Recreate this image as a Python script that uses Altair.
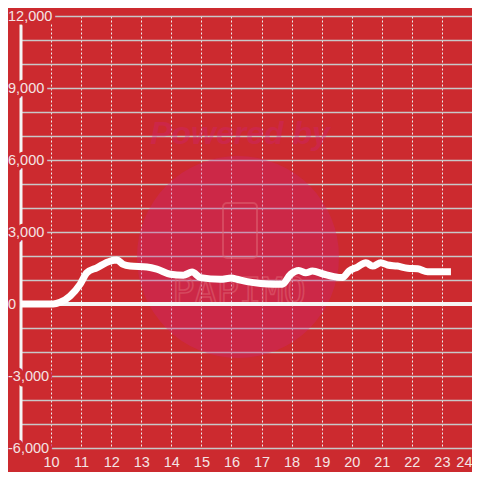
import altair as alt
import pandas as pd

# Time of day (hours) and value
hours = [9.0, 10.07, 10.3, 10.63, 10.97, 11.19, 11.52, 11.97, 12.19, 12.4, 12.63,
         13.19, 13.52, 13.97, 14.4, 14.69, 14.97, 15.63, 16.0, 16.19, 16.52, 16.97,
         17.4, 17.69, 17.97, 18.24, 18.47, 18.69, 19.08, 19.41, 19.69, 19.91, 20.19,
         20.47, 20.69, 20.97, 21.19, 21.52, 21.86, 22.19, 22.52, 22.97, 23.3]
values = [0, 0, 70, 330, 830, 1300, 1510, 1790, 1830, 1650, 1580,
          1540, 1450, 1240, 1200, 1330, 1100, 1030, 1080, 1030, 930, 850,
          820, 820, 1240, 1400, 1300, 1375, 1240, 1140, 1100, 1375, 1540,
          1720, 1580, 1720, 1625, 1580, 1490, 1470, 1345, 1345, 1345]

x_ticks = list(range(10, 25))
y_grid = list(range(-6000, 12001, 1000))
y_label_values = [-6000, -3000, 0, 3000, 6000, 9000, 12000]
y_label_texts = ["-6,000", "-3,000", "0", "3,000", "6,000", "9,000", "12,000"]

df = pd.DataFrame({"hour": hours, "value": values})
zero_df = pd.DataFrame({"value": [0]})
ylab_df = pd.DataFrame({"value": y_label_values, "text": y_label_texts})

BG = "#cc2a2f"
LABEL = "#f4e4e4"

x_scale = alt.Scale(domain=[9, 24], nice=False, zero=False)
y_scale = alt.Scale(domain=[-6000, 12000], nice=False)

x_axis = alt.Axis(values=x_ticks, tickCount=40, format="d", title=None,
                  domain=False, ticks=False,
                  grid=True, gridColor="#eeeeee", gridDash=[2, 2], gridWidth=1,
                  labelColor=LABEL, labelFontSize=14.5, labelPadding=7,
                  labelFont="Liberation Sans", labelFlush=True, labelOverlap=False)
y_axis = alt.Axis(values=y_grid, tickCount=40, title=None, ticks=False, domain=False,
                  labels=False, grid=True, gridColor="#c8c8c8", gridWidth=1.3)

# watermark (background decoration)
circle = alt.Chart(zero_df).mark_point(
    filled=True, shape="circle", color="#cc2382", opacity=0.3, size=40800
).encode(x=alt.value(217), y=alt.value(241))

wm1 = alt.Chart(zero_df).mark_text(
    text="Powered by", font="Liberation Sans", fontSize=32, fontWeight="bold",
    fontStyle="italic", color="#cc2382", opacity=0.3
).encode(x=alt.value(219), y=alt.value(118))

phone = alt.Chart(zero_df).mark_rect(
    fillOpacity=0, stroke="#e06a78", strokeWidth=2, strokeOpacity=0.5,
    cornerRadius=4
).encode(x=alt.value(202), x2=alt.value(236), y=alt.value(187), y2=alt.value(242))

wm2 = alt.Chart(zero_df).mark_text(
    text="PAPIMO", font="DejaVu Sans Mono", fontSize=37, fillOpacity=0,
    stroke="#e06a78", strokeWidth=1.6, strokeOpacity=0.5
).encode(x=alt.value(218), y=alt.value(277))

zero = alt.Chart(zero_df).mark_rule(color="#f5f5f5", strokeWidth=4).encode(
    y=alt.Y("value:Q", scale=y_scale, axis=y_axis)
)

yline = alt.Chart(zero_df).mark_rule(color="#f5f5f5", strokeWidth=3).encode(
    x=alt.X(datum=9, scale=x_scale, axis=x_axis)
)

halo = alt.Chart(ylab_df).mark_text(
    align="left", baseline="middle", dx=-13, dy=1, font="Liberation Sans",
    fontSize=14.5, color=BG, stroke=BG, strokeWidth=7, strokeJoin="round"
).encode(x=alt.X(datum=9, scale=x_scale, axis=x_axis),
         y=alt.Y("value:Q", scale=y_scale, axis=y_axis), text="text:N")

ylabels = alt.Chart(ylab_df).mark_text(
    align="left", baseline="middle", dx=-13, dy=1, font="Liberation Sans",
    fontSize=14.5, color=LABEL
).encode(x=alt.X(datum=9, scale=x_scale, axis=x_axis),
         y=alt.Y("value:Q", scale=y_scale, axis=y_axis), text="text:N")

line = alt.Chart(df).mark_line(
    color="white", strokeWidth=7, strokeJoin="round", strokeCap="butt",
    interpolate="monotone"
).encode(
    x=alt.X("hour:Q", scale=x_scale, axis=x_axis),
    y=alt.Y("value:Q", scale=y_scale, axis=y_axis),
)

chart = alt.layer(circle, wm1, phone, wm2, zero, yline, halo, ylabels, line).properties(
    width=451, height=432,
    autosize=alt.AutoSizeParams(type="none"),
    padding={"left": 13, "top": 8, "right": 0, "bottom": 24},
    background=BG,
).configure_view(stroke=None)

chart.save("out.html", embed_options={"renderer": "svg", "actions": False})
